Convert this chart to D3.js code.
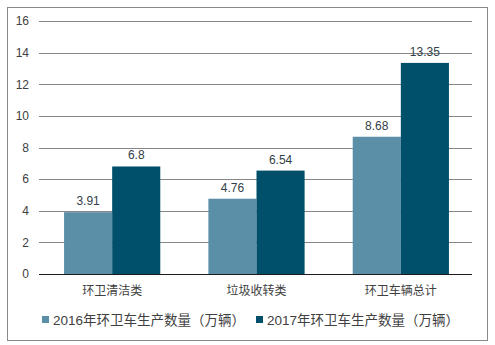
<!DOCTYPE html>
<html><head><meta charset="utf-8">
<script src="https://cdn.jsdelivr.net/npm/d3@7"></script>
<style>body{margin:0;background:#fff}svg{display:block}</style>
</head><body>
<script>
const categories = ["环卫清洁类", "垃圾收转类", "环卫车辆总计"];
const seriesNames = ["2016年环卫车生产数量（万辆）", "2017年环卫车生产数量（万辆）"];
const values2016 = [3.91, 4.76, 8.68];
const values2017 = [6.8, 6.54, 13.35];
const yTicks = [0, 2, 4, 6, 8, 10, 12, 14, 16];
const colors = ["#5b8fa7", "#00506b"];

(function () {
const W = 495, H = 345;
const svg = d3.select("body").append("svg").attr("width", W).attr("height", H);
const font = "'Liberation Sans', Arial, 'Noto Sans CJK SC', sans-serif";

svg.append("rect").attr("x", 7.5).attr("y", 7.5).attr("width", 480).attr("height", 333)
  .attr("fill", "#fff").attr("stroke", "#898989").attr("stroke-width", 1);

const pLeft = 39, pRight = 472, pTop = 21, pBottom = 274;
const y = d3.scaleLinear().domain([0, 16]).range([pBottom, pTop]);
const x0 = d3.scaleBand().domain(categories).range([pLeft + 1, pRight + 1]).paddingInner(1/3).paddingOuter(1/6);
const x1 = d3.scaleBand().domain([0, 1]).range([0, x0.bandwidth()]);

const g = svg.append("g");
g.selectAll("line.grid").data(yTicks.filter(d => d > 0)).enter().append("line")
  .attr("x1", pLeft).attr("x2", pRight)
  .attr("y1", d => Math.round(y(d)) + 0.5).attr("y2", d => Math.round(y(d)) + 0.5)
  .attr("stroke", "#868686").attr("stroke-width", 1);

const yAxis = d3.axisLeft(y).tickValues(yTicks).tickSize(0).tickPadding(10);
const ya = svg.append("g").attr("transform", `translate(${pLeft},0)`).call(yAxis);
ya.select(".domain").remove();
ya.selectAll("text").attr("font-family", font).attr("font-size", 12).attr("fill", "#404040");

const data = [values2016, values2017];
data.forEach((vals, si) => {
  g.selectAll("rect.s" + si).data(vals).enter().append("rect")
    .attr("x", (d, i) => x0(categories[i]) + x1(si))
    .attr("width", x1.bandwidth())
    .attr("y", d => y(d)).attr("height", d => pBottom - y(d))
    .attr("fill", colors[si]);
  g.selectAll("text.s" + si).data(vals).enter().append("text")
    .attr("x", (d, i) => x0(categories[i]) + x1(si) + x1.bandwidth() / 2)
    .attr("y", d => y(d) - 7)
    .attr("text-anchor", "middle")
    .attr("font-family", font).attr("font-size", 12).attr("fill", "#333f48")
    .text(d => d);
});

const xAxis = d3.axisBottom(x0).tickSize(0).tickPadding(12);
const xa = svg.append("g").attr("transform", `translate(0,${pBottom})`).call(xAxis);
xa.select(".domain").attr("stroke", "#1a1a1a").attr("d", `M${pLeft},0.5H${pRight}`);
xa.selectAll("text").attr("font-family", font).attr("font-size", 12).attr("fill", "#404040");

const legX = [42, 256];
seriesNames.forEach((n, i) => {
  svg.append("rect").attr("x", legX[i]).attr("y", 316).attr("width", 7).attr("height", 7).attr("fill", colors[i]);
  svg.append("text").attr("x", legX[i] + 11).attr("y", 325)
    .attr("font-family", font).attr("font-size", 13.5).attr("fill", "#404040").text(n);
});
})();
</script>
</body></html>
